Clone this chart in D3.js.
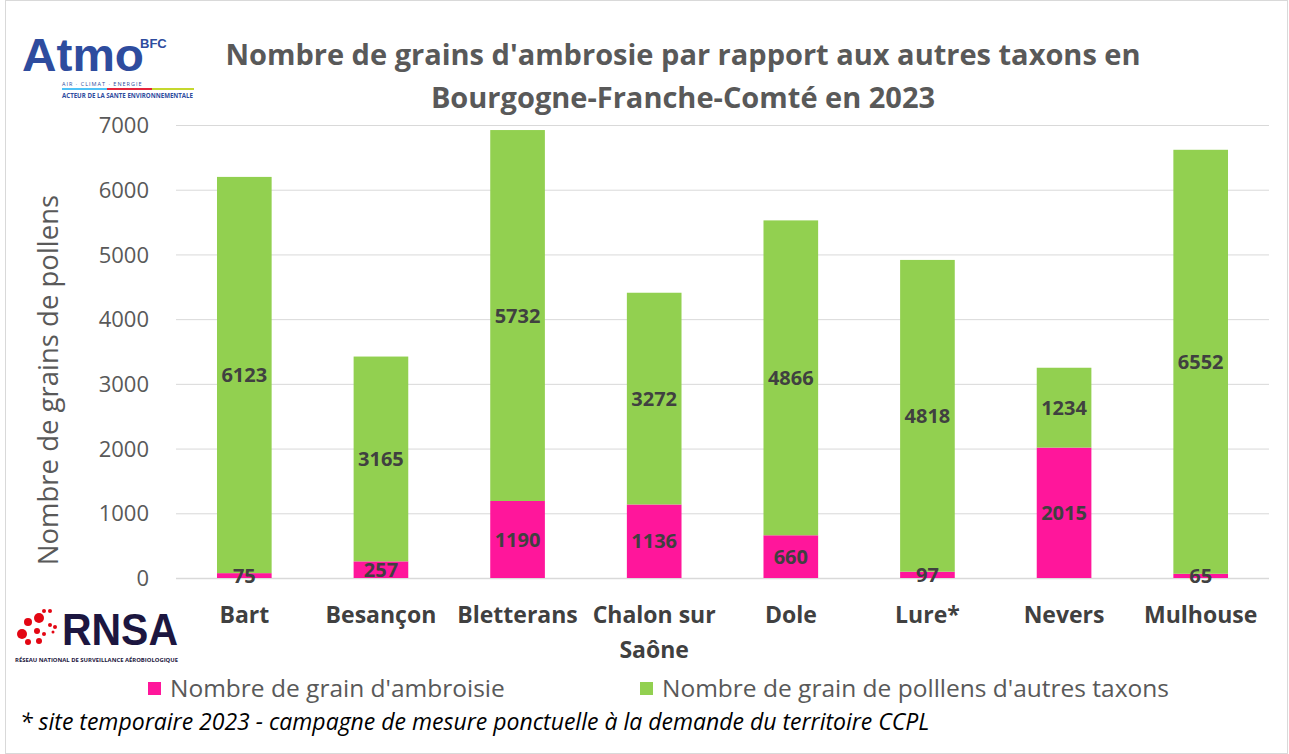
<!DOCTYPE html>
<html><head><meta charset="utf-8">
<script src="https://cdn.jsdelivr.net/npm/d3@7"></script>
<style>
html,body{margin:0;padding:0;background:#fff;}
svg{display:block;font-family:"Open Sans",sans-serif;}
</style></head>
<body>
<script>
const categories = ["Bart","Besançon","Bletterans","Chalon sur Saône","Dole","Lure*","Nevers","Mulhouse"];
const ambroisie = [75,257,1190,1136,660,97,2015,65];
const autres = [6123,3165,5732,3272,4866,4818,1234,6552];
const yTicks = [0,1000,2000,3000,4000,5000,6000,7000];
const seriesNames = ["Nombre de grain d'ambroisie","Nombre de grain de polllens d'autres taxons"];
const colors = ["#FF169B","#92D050"];

const W=1289,H=754;
const svg=d3.select("body").append("svg").attr("width",W).attr("height",H);
svg.append("rect").attr("x",5.5).attr("y",0.5).attr("width",W-7).attr("height",H-1).attr("fill","#fff").attr("stroke","#d9d9d9");

const x=d3.scaleBand().domain(categories).range([176,1269]).paddingInner(0.6).paddingOuter(0.3);
const y=d3.scaleLinear().domain([0,7000]).range([578,125]);

// grid
svg.append("g").selectAll("line").data(yTicks).join("line")
  .attr("x1",176).attr("x2",1269).attr("y1",d=>y(d)+0.5).attr("y2",d=>y(d)+0.5)
  .attr("stroke","#d9d9d9").attr("stroke-width",d=>d===0?1.5:1);

// y axis
const ya=svg.append("g").attr("transform","translate(176,0)").call(d3.axisLeft(y).tickValues(yTicks).tickFormat(d3.format("d")).tickSize(0).tickPadding(27));
ya.select(".domain").remove();
ya.selectAll("text").attr("font-size",22).attr("fill","#595959").attr("font-family","Open Sans").attr("dy","0.35em");

// stacks
const data=categories.map((c,i)=>({cat:c,a:ambroisie[i],b:autres[i]}));
const stack=d3.stack().keys(["a","b"])(data);
svg.append("g").selectAll("g").data(stack).join("g").attr("fill",(d,i)=>colors[i])
  .selectAll("rect").data(d=>d).join("rect")
  .attr("x",d=>x(d.data.cat)).attr("width",x.bandwidth())
  .attr("y",d=>y(d[1])).attr("height",d=>y(d[0])-y(d[1]));

// data labels
stack.forEach(s=>{
  svg.append("g").selectAll("text").data(s).join("text")
    .attr("x",d=>x(d.data.cat)+x.bandwidth()/2)
    .attr("y",d=>y((d[0]+d[1])/2))
    .attr("dy","0.36em").attr("text-anchor","middle")
    .attr("font-size",20).attr("font-weight","bold").attr("fill","#404040")
    .text(d=>d[1]-d[0]);
});

// x labels
const xl=svg.append("g").selectAll("text").data(categories).join("text")
  .attr("x",d=>x(d)+x.bandwidth()/2).attr("y",623)
  .attr("text-anchor","middle").attr("font-size",23).attr("font-weight","bold").attr("fill","#404040");
xl.each(function(d){
  const t=d3.select(this);
  if(d==="Chalon sur Saône"){
    t.append("tspan").attr("x",x(d)+x.bandwidth()/2).text("Chalon sur");
    t.append("tspan").attr("x",x(d)+x.bandwidth()/2).attr("dy",35).text("Saône");
  } else t.text(d);
});

// y title
svg.append("text").attr("transform","translate(58,380) rotate(-90)").attr("text-anchor","middle")
  .attr("font-size",27.5).attr("fill","#595959").text("Nombre de grains de pollens");

// title
const title=svg.append("text").attr("text-anchor","middle").attr("font-size",29).attr("font-weight","bold").attr("fill","#595959");
title.append("tspan").attr("x",683).attr("y",65).text("Nombre de grains d'ambrosie par rapport aux autres taxons en");
title.append("tspan").attr("x",683).attr("y",108).text("Bourgogne-Franche-Comté en 2023");

// legend
const lx=[148,640];
seriesNames.forEach((n,i)=>{
  svg.append("rect").attr("x",lx[i]).attr("y",682).attr("width",13).attr("height",13).attr("fill",colors[i]);
  svg.append("text").attr("x",lx[i]+22).attr("y",697).attr("font-size",24.5).attr("fill","#595959").text(n);
});

// footnote
svg.append("text").attr("x",20).attr("y",730).attr("font-size",23).attr("font-style","italic").attr("fill","#000")
  .text("* site temporaire 2023 - campagne de mesure ponctuelle à la demande du territoire CCPL");

// Atmo logo
const atmo=svg.append("g");
atmo.append("text").attr("x",22).attr("y",71).attr("font-size",46).attr("font-weight","bold").attr("fill","#2E4C9E").attr("font-family","Liberation Sans").attr("textLength",122).attr("lengthAdjust","spacingAndGlyphs").text("Atmo");
atmo.append("text").attr("x",140).attr("y",48).attr("font-size",13).attr("font-weight","bold").attr("fill","#2E4C9E").attr("font-family","Liberation Sans").text("BFC");
atmo.append("text").attr("x",62).attr("y",86).attr("font-size",5.5).attr("fill","#2E4C9E").attr("letter-spacing",1).text("AIR · CLIMAT · ENERGIE");
atmo.append("rect").attr("x",62).attr("y",88).attr("width",45).attr("height",2).attr("fill","#4FC3F7");
atmo.append("rect").attr("x",107).attr("y",88).attr("width",45).attr("height",2).attr("fill","#E5243B");
atmo.append("rect").attr("x",152).attr("y",88).attr("width",42).attr("height",2).attr("fill","#C5D82E");
atmo.append("text").attr("x",62).attr("y",98).attr("font-size",6.5).attr("font-weight","bold").attr("fill","#2E4C9E").attr("textLength",131).attr("lengthAdjust","spacingAndGlyphs").text("ACTEUR DE LA SANTE ENVIRONNEMENTALE");

// RNSA logo
const rn=svg.append("g");
const dots=[[22,634,5],[28,622,4],[39,618,5],[44,611,2],[50,611,2],[37,631,3],[44,634,2],[50,625,2],[55,627,2],[39,641,3],[28,642,3],[53,632,1.5]];
rn.selectAll("circle").data(dots).join("circle").attr("cx",d=>d[0]).attr("cy",d=>d[1]).attr("r",d=>d[2]).attr("fill","#E30613");
rn.append("text").attr("x",62).attr("y",645).attr("font-size",44).attr("font-weight","bold").attr("fill","#1C1640").attr("font-family","Liberation Sans").attr("textLength",116).attr("lengthAdjust","spacingAndGlyphs").text("RNSA");
rn.append("text").attr("x",15).attr("y",662).attr("font-size",6).attr("font-weight","bold").attr("fill","#1C1640").attr("textLength",163).attr("lengthAdjust","spacingAndGlyphs").text("RÉSEAU NATIONAL DE SURVEILLANCE AÉROBIOLOGIQUE");
</script>
</body></html>
